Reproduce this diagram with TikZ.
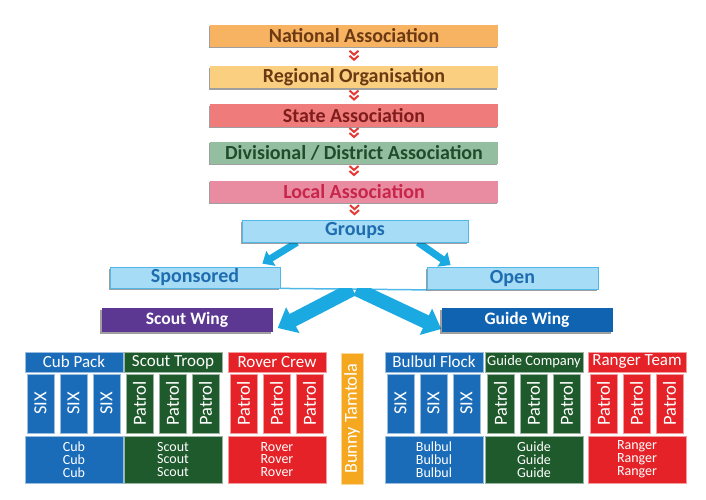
\documentclass[tikz,border=0pt]{standalone}
\usepackage{fontspec}
\setmainfont{Carlito}
\usetikzlibrary{shadows,calc,arrows.meta}
\pgfdeclarelayer{bg}
\pgfsetlayers{bg,main}
\definecolor{natfill}{HTML}{F7B262}
\definecolor{regfill}{HTML}{FBCF80}
\definecolor{brown}{HTML}{6B3A12}
\definecolor{statefill}{HTML}{EF7B7B}
\definecolor{statetext}{HTML}{7F1D1D}
\definecolor{distfill}{HTML}{93BFA0}
\definecolor{disttext}{HTML}{1F4D2B}
\definecolor{locfill}{HTML}{E98CA2}
\definecolor{loctext}{HTML}{C8254A}
\definecolor{skyfill}{HTML}{A6DCF5}
\definecolor{skyline}{HTML}{4FB8E8}
\definecolor{skytext}{HTML}{1F6DB0}
\definecolor{arrowblue}{HTML}{1BA9E1}
\definecolor{scoutwing}{HTML}{5C3893}
\definecolor{guidewing}{HTML}{0F63B0}
\definecolor{cubblue}{HTML}{1A6CB9}
\definecolor{troopgreen}{HTML}{1E5A2B}
\definecolor{crewred}{HTML}{E42227}
\definecolor{bunny}{HTML}{F5A720}
\definecolor{chevred}{HTML}{E53935}

\begin{document}
\begin{tikzpicture}[x=1pt,y=-1pt,
	tier/.style={rectangle,inner sep=0pt,minimum width=288pt,minimum height=22pt,
		font=\fontsize{20}{22}\selectfont\bfseries,
		drop shadow={shadow xshift=-1.5pt,shadow yshift=-1.5pt,fill=black!75,opacity=.5}},
	sky/.style={tier,fill=skyfill,draw=skyline,line width=.8pt,text=skytext},
	wing/.style={tier,minimum width=171pt,minimum height=24pt,text=white,
		font=\fontsize{17.5}{20}\selectfont\bfseries},
	unithead/.style={rectangle,inner sep=0pt,minimum width=98pt,minimum height=20pt,text=white},
	unitcol/.style={rectangle,inner sep=0pt,minimum width=59pt,minimum height=27pt,text=white,
		rotate=90,font=\fontsize{18.5}{19}\selectfont},
	unitbase/.style={rectangle,inner sep=0pt,minimum width=98pt,minimum height=47pt,text=white,
		align=center,font=\fontsize{14}{12.8}\selectfont},
	chevs/.pic={\draw[chevred,line width=2pt] (-4.5,-6) -- (0,-2) -- (4.5,-6) (-4.5,-1) -- (0,3) -- (4.5,-1);},
	fatarrow/.style={arrowblue,line width=14pt,-{Triangle[length=17pt,width=28pt]}},
	thinarrow/.style={arrowblue,line width=7pt,-{Triangle[length=10pt,width=17pt]}}]
	\useasboundingbox (0,0) rectangle (706,500);
	% levels
	\node[tier,fill=natfill,text=brown] (nat) at (354,36) {National Association};
	\node[tier,fill=regfill,text=brown] (reg) at (354,77.5) {Regional Organisation};
	\node[tier,fill=statefill,text=statetext] (state) at (354,115.5) {State Association};
	\node[tier,fill=distfill,text=disttext] (dist) at (354,152.5) {Divisional / District Association};
	\node[tier,fill=locfill,text=loctext] (loc) at (354,191.5) {Local Association};
	\node[sky,minimum width=226pt] (grp) at (355,231) {Groups};
	% chevrons
	\path ($(nat.south)!.5!(reg.north)$) pic {chevs};
	\path ($(reg.south)!.5!(state.north)$) pic {chevs};
	\path ($(state.south)!.5!(dist.north)$) pic {chevs};
	\path ($(dist.south)!.5!(loc.north)$) pic {chevs};
	\path ($(loc.south)!.5!(grp.north)$) pic {chevs};
	% group types
	\node[sky,minimum width=170pt,minimum height=21pt] (spon) at (195,277.5) {Sponsored};
	\node[sky,minimum width=171pt] (open) at (512.5,278.5) {Open};
	\node[wing,fill=scoutwing] (sw) at (187,320) {Scout Wing};
	\node[wing,fill=guidewing] (gw) at (527,320) {Guide Wing};
	% arrows
	\begin{pgfonlayer}{bg}
		\draw[thinarrow] ([xshift=-58pt]grp.south) -- ([xshift=-18pt,yshift=3pt]spon.north east);
		\draw[thinarrow] ([xshift=63pt]grp.south) -- ([xshift=24pt,yshift=2pt]open.north west);
		\draw[skyline,line width=1.5pt] (spon.south east) -- coordinate (split) (open.south west);
		\begin{scope}
			\clip (0,288.5) rectangle (706,500);
			\draw[fatarrow] ($(split)+(-1,0)$) -- ([xshift=5pt,yshift=-8pt]sw.east);
			\draw[fatarrow] ($(split)+(3,0)$) -- ([yshift=-9pt]gw.west);
		\end{scope}
	\end{pgfonlayer}
	% sections
	\foreach \nm/\x/\c/\hd/\fs/\col/\base in {cub/25/cubblue/Cub Pack/17/SIX/Cub,
		sct/124/troopgreen/Scout Troop/17/Patrol/Scout,
		rov/228/crewred/Rover Crew/17/Patrol/Rover,
		bul/385/cubblue/Bulbul Flock/17/SIX/Bulbul,
		gui/485/troopgreen/Guide Company/14.5/Patrol/Guide,
		ran/588/crewred/Ranger Team/17/Patrol/Ranger}{
		\node[unithead,fill=\c,draw=\c!45,font=\fontsize{\fs}{18}\selectfont] (\nm-head) at (\x+49,362) {\hd};
		\foreach \i in {0,1,2}
			\node[unitcol,fill=\c,draw=\c!45] (\nm-col\i) at (\x+15.5+33*\i,403.5) {\col};
		\node[unitbase,fill=\c,draw=\c!45] (\nm-base) at (\x+49,459.5) {\base\\\base\\\base};
	}
	\node[rectangle,inner sep=0pt,minimum width=131pt,minimum height=22pt,rotate=90,
		fill=bunny,draw=bunny!45,text=white,font=\fontsize{18.3}{19}\selectfont] (bunny) at (352,418.5) {Bunny Tamtola};
\end{tikzpicture}
\end{document}
